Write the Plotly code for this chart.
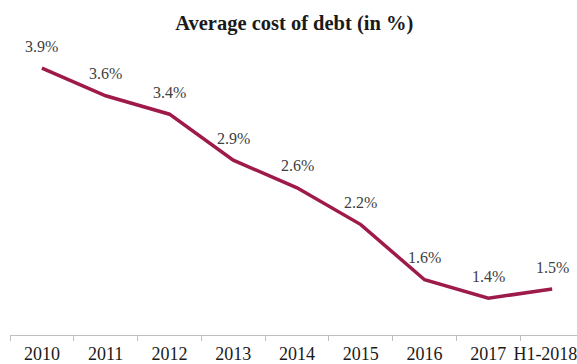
import plotly.graph_objects as go

# Average cost of debt by period
periods = ["2010", "2011", "2012", "2013", "2014", "2015", "2016", "2017", "H1-2018"]
cost_pct = [3.9, 3.6, 3.4, 2.9, 2.6, 2.2, 1.6, 1.4, 1.5]
value_labels = [f"{v:.1f}%" for v in cost_pct]

line_color = "#9E1A4A"
serif = "Liberation Serif"

positions = list(range(len(periods)))
boundaries = [p - 0.5 for p in positions]

# the last category label is padded on the right so it stays inside the page edge
tick_labels = periods[:-1] + [periods[-1] + "&nbsp;&nbsp;&nbsp;"]

fig = go.Figure()
fig.add_trace(go.Scatter(
    x=positions,
    y=cost_pct,
    mode="lines",
    line=dict(color=line_color, width=3.5),
    hoverinfo="skip",
    showlegend=False,
))

# value labels sit above each point
for i, (v, t) in enumerate(zip(cost_pct, value_labels)):
    fig.add_annotation(
        x=i, y=v, text=t, showarrow=False, yshift=22,
        font=dict(family=serif, size=16, color="#404040"),
    )

fig.update_layout(
    width=577, height=364,
    margin=dict(l=10, r=0, t=20, b=29, autoexpand=False),
    paper_bgcolor="white", plot_bgcolor="white",
    font=dict(family=serif),
    title=dict(
        text="<b>Average cost of debt (in %)</b>",
        x=0.51, xanchor="center", y=1 - 23 / 364, yanchor="middle",
        font=dict(family=serif, size=20.5, color="#1a1a1a"),
    ),
    xaxis=dict(
        range=[-0.5, 8.39],
        automargin=False,
        tickmode="array",
        tickvals=positions,
        ticktext=tick_labels,
        ticks="outside", ticklen=2, tickcolor="rgba(0,0,0,0)",
        minor=dict(tickvals=boundaries, ticks="outside", ticklen=5,
                   tickcolor="#bfbfbf", showgrid=False),
        ticklabeloverflow="allow",
        showline=True, linecolor="#bfbfbf", linewidth=1,
        showgrid=False, zeroline=False,
        tickfont=dict(family=serif, size=18, color="#1a1a1a"),
    ),
    yaxis=dict(
        range=[1.0, 1.0 + 315 / 92],
        automargin=False,
        visible=False, showgrid=False, zeroline=False,
    ),
)

fig.write_html("out.html")
